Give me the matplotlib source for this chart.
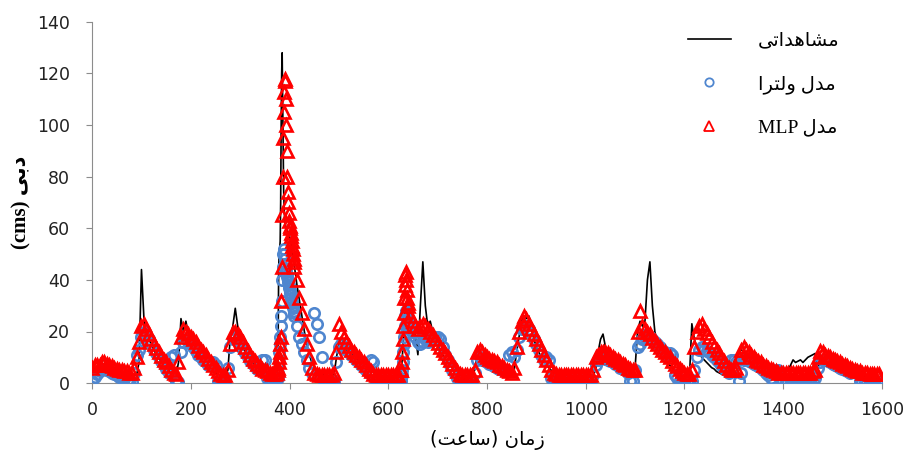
import numpy as np
import matplotlib
matplotlib.use("Agg")
import matplotlib.pyplot as plt

# hours on a 5-hour grid (0..1595) + hourly detail around two sharp rises
hours = np.arange(0, 1600, 5)
fine_hours = np.concatenate([np.arange(376, 411), np.arange(626, 641)])

observed = [
    5, 6, 5, 6, 8, 10, 7, 6, 6, 5, 5, 4.5, 4, 4, 3.5, 3.5, 3, 3, 3, 8,
    44, 25, 20, 17, 15, 13, 11, 10, 8, 7, 6, 5, 4, 3.5, 3, 8, 25, 20, 24, 19,
    16, 14, 12, 11, 9.5, 8, 7, 6, 5, 4.5, 4, 3.5, 3, 3, 3, 5, 18, 22, 29, 22,
    17, 14, 12, 10, 9, 8, 7, 6, 5, 4.5, 4, 3.5, 3, 3, 3, 5, 52, 128, 64, 66,
    59, 52, 45, 38, 32, 26, 20, 15, 11, 8, 6, 5, 4, 3.5, 3, 3, 3, 3, 3, 10,
    15, 18, 15, 13, 12, 11, 11, 10, 8, 6, 5, 4, 3.5, 3, 3, 3, 3, 3, 3, 3,
    3, 3, 3, 3, 3, 4, 15, 28, 28, 26, 22, 18, 11, 30, 47, 30, 22, 24, 20, 17,
    15, 13, 11, 9.5, 8, 7, 6, 5, 4.5, 4, 3.5, 3, 3, 3, 3, 5, 11, 13, 11, 10,
    9, 8, 7.5, 7, 6.5, 6, 5.5, 5, 4.5, 4, 3.5, 5, 12, 18, 24, 26, 25, 26, 21, 17,
    14, 12, 10, 8.5, 7, 6, 5, 4, 3.5, 3, 3, 3, 3, 3, 3, 3, 3, 3, 3, 3,
    3, 3, 3, 3, 5, 12, 17, 19, 14, 12, 10, 9, 8, 7, 6, 5.5, 5, 4.5, 4, 4,
    6, 20, 24, 22, 24, 40, 47, 30, 20, 16, 13, 11, 9, 8, 7, 6, 5, 4, 3.5, 3,
    3, 2.5, 2, 23, 17, 14, 12, 10, 9, 8, 7, 6, 5.5, 4.5, 4, 3.5, 3, 3, 3.5, 5,
    8, 11, 12, 13, 12, 10, 9, 8, 7, 6.5, 6, 5.5, 5, 4.5, 4, 4, 3.5, 3.5, 3.5, 4,
    4, 4.5, 5, 7, 9, 8, 8.5, 9, 8, 9, 10, 10.5, 11, 11.5, 6, 8, 9, 8, 7, 6,
    5.5, 5, 5, 4.5, 4, 4, 3.5, 3.5, 3, 3, 3, 3, 2.5, 2.5, 2.5, 2.5, 2.5, 2.5, 2.5, 2.5,
]
volterra = [
    1, 2.5, 3.5, 4.5, 5.5, 5.5, 5, 4.5, 4, 3.5, 3, 2.5, 2, 1.5, 1, 0.5, 0.5, 4, 11, 13,
    18, 20, 19, 17, 15, 13, 11.5, 10, 8.5, 7, 5.5, 4, 10, 11, 1, 0.5, 12, 16, 17, 16,
    15, 14, 12.5, 11, 10, 9, 8, 7, 8, 8, 7, 1, 0.5, 0.5, 1, 6, 14, 17, 18, 17,
    15, 13, 11.5, 10, 8.5, 7.5, 6.5, 5.5, 6, 9, 9, 2, 1, 1, 2, 4, 15, 40, 48, 41,
    36, 31, 26, 22, 18, 15, 12, 9, 6, 4, 27, 23, 18, 10, 1, 0.5, 0.5, 0.5, 1, 8,
    14, 15, 14, 13, 12, 11, 10, 9, 8, 7, 6, 5, 4, 9, 8, 1, 0.5, 0.5, 0.5, 1,
    0.5, 0.5, 0.5, 0.5, 0.5, 1, 12, 28, 20, 22, 20, 18, 16, 15, 16, 17, 16, 18, 17, 18,
    18, 17, 14, 11, 9, 7, 5, 3.5, 2, 1, 0.5, 0.5, 0.5, 0.5, 1, 4, 9, 10, 9, 8.5,
    8, 7.5, 7, 6.5, 6, 5.5, 5, 4.5, 5, 11, 12, 10, 13, 18, 21, 22, 22, 21, 19, 17,
    15, 13, 11, 9, 10, 9, 2, 1, 0.5, 0.5, 0.5, 0.5, 0.5, 0.5, 0.5, 0.5, 0.5, 0.5, 0.5, 0.5,
    0.5, 0.5, 1, 3, 7, 9, 10, 10, 9.5, 9, 8.5, 8, 7.5, 7, 6, 5.5, 5, 4, 1, 1,
    5, 14, 15, 17, 18, 19, 18, 17, 16, 15, 14, 13, 12, 11, 11.5, 11, 3, 2, 1, 0.5,
    0.5, 0.5, 0.5, 1, 5, 10, 13, 14, 13, 12.5, 12, 11, 10, 9, 8, 7, 6, 5, 4, 9,
    9, 8, 1, 4, 9, 9, 8.5, 8, 7.5, 7, 6.5, 6, 5, 4, 3, 2, 4, 5, 5, 1,
    1, 0.5, 0.5, 0.5, 0.5, 1, 1, 1, 1, 1, 1, 1, 1, 2, 6, 8, 9, 9, 8.5, 8,
    7.5, 7, 6.5, 6, 5.5, 5, 4.5, 4, 5, 5, 4, 1, 0.5, 0.5, 0.5, 0.5, 0.5, 0.5, 0.5, 0.5,
]
mlp = [
    6, 7, 7, 7, 8, 8, 7.5, 7, 6.5, 6, 5.5, 5, 5, 4.5, 4.5, 4, 4, 6, 10, 16,
    22, 23, 21, 19, 17, 15, 13.5, 12, 10.5, 9, 8, 6.5, 5, 4, 3.5, 8, 18, 21, 20, 19,
    18, 17, 16, 14.5, 13, 12, 11, 9.5, 8, 7, 6, 4.5, 3.5, 3, 3, 5, 15, 20, 20, 19,
    18, 16, 14, 12.5, 11, 9.5, 8.5, 7.5, 6.5, 5.5, 5, 4.5, 4, 3.5, 3.5, 4, 12, 60, 118, 80,
    61, 53, 45, 40, 33, 27, 21, 15, 10, 6, 4, 3.5, 3, 3, 3, 3, 3, 3, 4, 12,
    23, 20, 18, 16, 14.5, 13, 12, 11, 10, 9, 8, 7, 5.5, 4.5, 3.5, 3, 3, 3, 3, 3,
    3, 3, 3, 3, 3, 5, 22, 43, 30, 26, 24, 22, 21, 22, 23, 22, 21, 20, 18.5, 17,
    15.5, 14, 13, 11.5, 10, 9, 7.5, 6, 4.5, 3.5, 3, 3, 3, 3, 3, 5, 12, 13, 12, 11,
    10, 9.5, 9, 8.5, 8, 7, 6.5, 6, 5, 4.5, 4, 6, 14, 20, 24, 26, 25, 23, 21, 19,
    17, 15, 13, 11, 9, 7, 5, 4, 3.5, 3, 3, 3, 3, 3, 3, 3, 3, 3, 3, 3,
    3, 3, 3, 5, 10, 11, 12, 12, 12, 11.5, 11, 10, 9.5, 9, 8, 7.5, 7, 6, 5.5, 5,
    5, 20, 28, 22, 21, 20, 19, 17.5, 16.5, 15, 14, 13, 12, 11, 10, 8.5, 7.5, 6.5, 5.5, 4.5,
    4, 3.5, 3.5, 5, 14, 20, 22, 23, 21, 19.5, 18, 16, 14.5, 13, 11.5, 10, 8.5, 7, 6, 5,
    5, 6, 10, 13, 14, 13, 12, 11, 10, 9, 8.5, 8, 7, 6.5, 6, 5.5, 5, 4.5, 4, 4,
    4, 4, 4, 4, 4, 4, 4, 4, 4, 4, 4, 4, 4.5, 5, 10, 12.5, 12, 11, 10.5, 10,
    9.5, 9, 8.5, 8, 7.5, 7, 6.5, 6, 5.5, 5, 4.5, 4.5, 4, 4, 4, 3.5, 3.5, 3.5, 3.5, 3.5,
]

observed_fine = [
    5, 20, 45, 50, 52, 55, 70, 100, 120, 128, 110, 90, 75, 68, 64, 62, 61, 60, 60, 59,
    59, 58, 58, 57, 57, 56, 55, 54, 53, 52, 50, 49, 48, 46, 45,
    4, 6, 9, 12, 15, 19, 23, 26, 28, 28, 29, 30, 30, 29, 28,
]
volterra_fine = [
    2, 4, 8, 12, 15, 18, 22, 26, 32, 40, 45, 50, 52, 50, 48, 46, 44, 43, 42, 41,
    40, 39, 38, 37, 36, 35, 34, 33, 32, 31, 30, 29, 28, 27, 26,
    2, 3, 5, 8, 12, 15, 18, 22, 26, 28, 27, 25, 23, 21, 20,
]
mlp_fine = [
    5, 6, 8, 10, 12, 15, 18, 32, 45, 65, 80, 95, 105, 113, 118, 117, 110, 100, 90, 80,
    74, 70, 66, 63, 61, 60, 58, 57, 55, 53, 52, 50, 48, 47, 45,
    5, 8, 12, 17, 22, 27, 33, 38, 42, 43, 40, 36, 33, 31, 30,
]

# Persian letters -> (isolated, final, initial, medial) presentation forms
FORMS = {
    'ا': ('\uFE8D', '\uFE8E', None, None),
    'ب': ('\uFE8F', '\uFE90', '\uFE91', '\uFE92'),
    'ت': ('\uFE95', '\uFE96', '\uFE97', '\uFE98'),
    'د': ('\uFEA9', '\uFEAA', None, None),
    'ر': ('\uFEAD', '\uFEAE', None, None),
    'ز': ('\uFEAF', '\uFEB0', None, None),
    'س': ('\uFEB1', '\uFEB2', '\uFEB3', '\uFEB4'),
    'ش': ('\uFEB5', '\uFEB6', '\uFEB7', '\uFEB8'),
    'ع': ('\uFEC9', '\uFECA', '\uFECB', '\uFECC'),
    'ل': ('\uFEDD', '\uFEDE', '\uFEDF', '\uFEE0'),
    'م': ('\uFEE1', '\uFEE2', '\uFEE3', '\uFEE4'),
    'ن': ('\uFEE5', '\uFEE6', '\uFEE7', '\uFEE8'),
    'ه': ('\uFEE9', '\uFEEA', '\uFEEB', '\uFEEC'),
    'و': ('\uFEED', '\uFEEE', None, None),
    'ی': ('\uFBFC', '\uFBFD', '\uFBFE', '\uFBFF'),
}


def shape_word(word):
    out = []
    for i, ch in enumerate(word):
        iso, fin, ini, med = FORMS[ch]
        prev_joins = i > 0 and FORMS[word[i - 1]][2] is not None
        next_joins = i + 1 < len(word) and ini is not None
        if prev_joins and next_joins:
            out.append(med)
        elif prev_joins:
            out.append(fin)
        elif next_joins:
            out.append(ini)
        else:
            out.append(iso)
    return ''.join(reversed(out))


def fa(text):
    return ' '.join(shape_word(w) for w in reversed(text.split()))


def merge(grid_vals, fine_vals):
    grid_vals = np.asarray(grid_vals, float)
    keep = ~(((hours >= 376) & (hours <= 410)) | ((hours >= 626) & (hours <= 640)))
    x = np.concatenate([hours[keep], fine_hours])
    y = np.concatenate([grid_vals[keep], np.asarray(fine_vals, float)])
    order = np.argsort(x, kind='stable')
    return x[order], y[order]


x_obs, y_obs = merge(observed, observed_fine)
x_vol, y_vol = merge(volterra, volterra_fine)
x_mlp, y_mlp = merge(mlp, mlp_fine)

fig = plt.figure(figsize=(9.12, 4.55), dpi=100)
ax = fig.add_axes([0.101, 0.158, 0.866, 0.794])

ax.plot(x_obs, y_obs, color='black', lw=1.2, label=fa('مشاهداتی'), zorder=2)
ax.plot(x_vol, y_vol, ls='none', marker='o', ms=7.5, mfc='none', mec='#4f86cf',
        mew=1.9, label=fa('مدل ولترا'), zorder=3)
ax.plot(x_mlp, y_mlp, ls='none', marker='^', ms=8.5, mfc='none', mec='#ff0000',
        mew=1.9, label='MLP ' + fa('مدل'), zorder=4)

ax.set_xlim(0, 1600)
ax.set_ylim(0, 140)
ax.set_xticks(np.arange(0, 1601, 200))
ax.set_yticks(np.arange(0, 141, 20))
for side in ['top', 'right']:
    ax.spines[side].set_visible(False)
for side in ['left', 'bottom']:
    ax.spines[side].set_color('#8c8c8c')
ax.tick_params(direction='out', length=4, color='#8c8c8c', labelsize=12.5,
               labelcolor='#222222')
ax.tick_params(axis='x', pad=9)
ax.tick_params(axis='y', pad=12)

ax.set_xlabel('(' + fa('ساعت') + ') ' + fa('زمان'), fontsize=14,
              family=['DejaVu Sans'], labelpad=8)
ax.set_ylabel('(cms) ' + fa('دبی'), fontsize=15, fontweight='bold',
              family=['Liberation Serif', 'DejaVu Sans'], labelpad=4)

leg = ax.legend(loc='upper left', bbox_to_anchor=(0.735, 0.968),
                bbox_transform=fig.transFigure, frameon=False, numpoints=1,
                handlelength=2.2, labelspacing=1.3, handletextpad=1.4,
                markerscale=0.8,
                prop={'family': ['Liberation Serif', 'DejaVu Sans'], 'size': 14})
for h in leg.legend_handles[1:]:
    h.set_markeredgewidth(1.3)

fig.savefig('out.png', dpi=100)
